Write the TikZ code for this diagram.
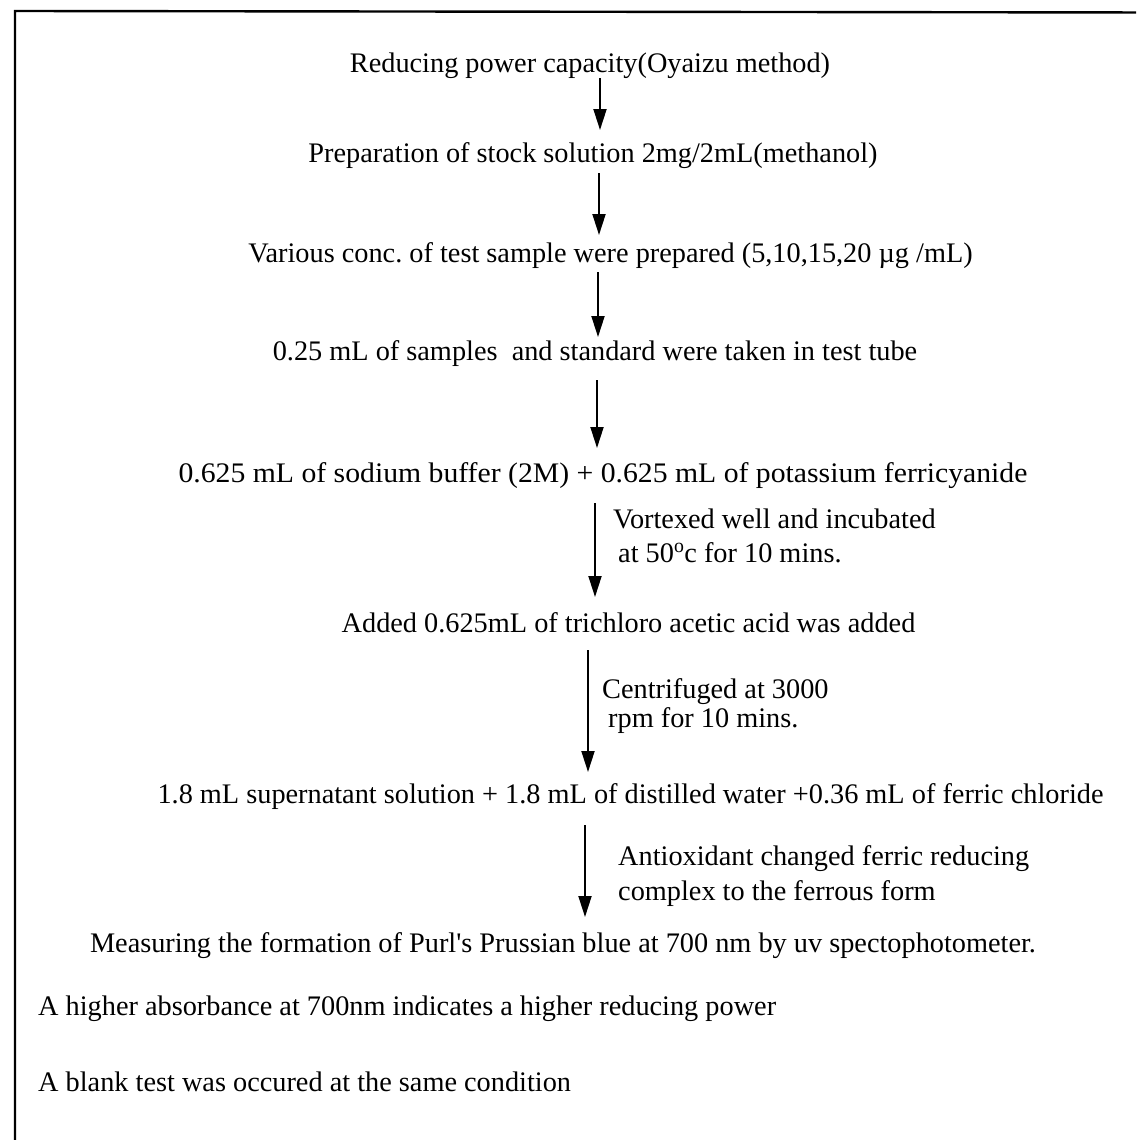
\documentclass[tikz,border=0pt]{standalone}
\usepackage{fontspec}
\setmainfont{Liberation Serif}[Ligatures=TeXOff]
\usetikzlibrary{arrows.meta,calc}
\frenchspacing
\begin{document}
\begin{tikzpicture}[x=1pt,y=-1pt,
  txt/.style={inner sep=0pt, anchor=base, font=\fontsize{28.3}{33}\selectfont},
  lbl/.style={inner sep=0pt, anchor=base west, font=\fontsize{28.3}{33}\selectfont},
  arr/.style={line width=1.9pt, -{Triangle[length=21pt,width=13pt]}}]
\useasboundingbox (0,0) rectangle (1136,1140);
\begin{scope}
\clip (0,0) rectangle (1136,1140);
\draw[line width=2.4pt] (15,1160) -- (15,11) -- (1160,12.5);
\end{scope}
\node[txt] (n1) at (590,72) {Reducing power capacity(Oyaizu method)};
\node[txt] (n2) at (593,162) {Preparation of stock solution 2mg/2mL(methanol)};
\node[txt] (n3) at (610.5,262) {Various conc. of test sample were prepared (5,10,15,20 µg /mL)};
\node[txt] (n4) at (595,360) {0.25 mL of samples\ \ and standard were taken in test tube};
\node[txt] (n5) at (603,482) {\scalebox{1.05}[1]{0.625 mL of sodium buffer (2M) + 0.625 mL of potassium ferricyanide}};
\node[txt] (n6) at (628.5,632) {Added 0.625mL of trichloro acetic acid was added};
\node[txt] (n7) at (630.5,803) {1.8 mL supernatant solution + 1.8 mL of distilled water +0.36 mL of ferric chloride};
\node[txt] (n8) at (563,952) {Measuring the formation of Purl's Prussian blue at 700 nm by uv spectophotometer.};
\node[lbl] (n9) at (38,1015) {A higher absorbance at 700nm indicates a higher reducing power};
\node[lbl] (n10) at (38,1091) {A blank test was occured at the same condition};
\draw[arr] ($(n1.base -| 600,0)+(0,6)$) -- ($(n2.base -| 600,0)+(0,-32)$);
\draw[arr] ($(n2.base -| 599,0)+(0,11)$) -- ($(n3.base -| 599,0)+(0,-27)$);
\draw[arr] ($(n3.base -| 598,0)+(0,10)$) -- ($(n4.base -| 598,0)+(0,-23)$);
\draw[arr] ($(n4.base -| 597,0)+(0,20)$) -- ($(n5.base -| 597,0)+(0,-34)$);
\draw[arr] ($(n5.base -| 595,0)+(0,21)$) -- ($(n6.base -| 595,0)+(0,-35)$);
\draw[arr] ($(n6.base -| 588,0)+(0,18)$) -- ($(n7.base -| 588,0)+(0,-31)$);
\draw[arr] ($(n7.base -| 585,0)+(0,22)$) -- ($(n8.base -| 585,0)+(0,-35)$);
\node[lbl] (l5a) at (613,528) {Vortexed well and incubated};
\node[lbl] (l5b) at (618,562) {at 50\textsuperscript{o}c for 10 mins.};
\node[lbl] (l6a) at (602,698) {Centrifuged at 3000};
\node[lbl] (l6b) at (608,727) {rpm for 10 mins.};
\node[lbl] (l7a) at (618,865) {Antioxidant changed ferric reducing};
\node[lbl] (l7b) at (618,900) {complex to the ferrous form};
\end{tikzpicture}
\end{document}
